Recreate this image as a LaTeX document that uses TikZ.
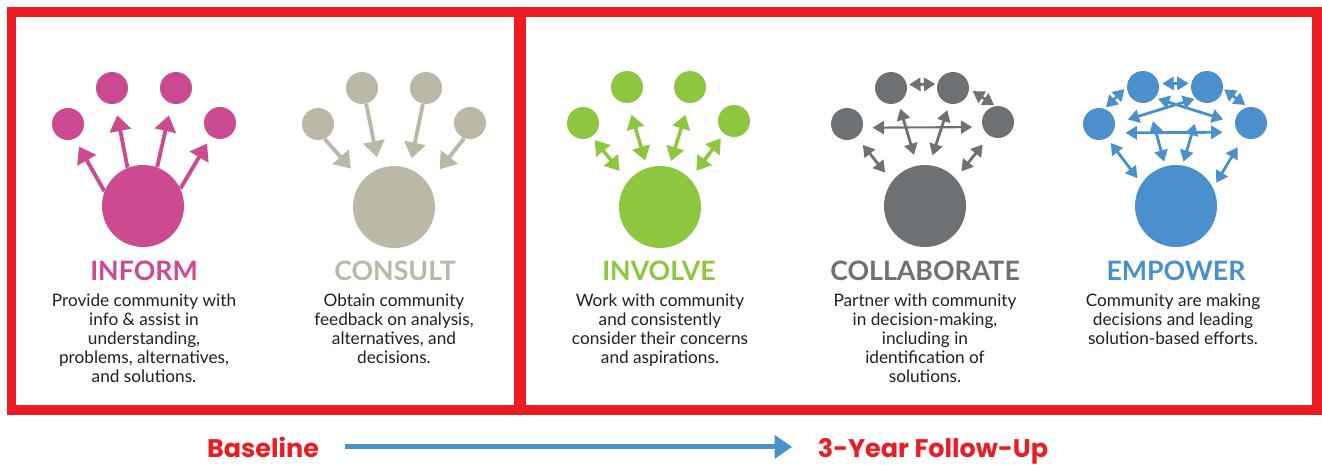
\documentclass[tikz,border=0pt]{standalone}
\usepackage{fontspec}
\setmainfont{Lato}
\newfontfamily\tagfont{Poppins}
\usetikzlibrary{arrows.meta}

\definecolor{informc}{HTML}{CC4A8F}
\definecolor{consultc}{HTML}{BCB8A6}
\definecolor{involvec}{HTML}{8DC63F}
\definecolor{collabc}{HTML}{6D7173}
\definecolor{empowerc}{HTML}{4A90CD}
\definecolor{framec}{HTML}{ED1C24}
\definecolor{bodyc}{HTML}{231F20}

\tikzset{
  smalldot/.style={circle,fill=#1,minimum size=0.64cm,inner sep=0pt},
  bigdot/.style={circle,fill=#1,minimum size=1.64cm,inner sep=0pt},
  oneway/.style={draw=#1,line width=2.2pt,-{Triangle[width=12pt,length=9pt]}},
  twoway/.style={draw=#1,line width=2pt,{Triangle[width=10pt,length=8pt]}-{Triangle[width=10pt,length=8pt]}},
  thinway/.style={draw=#1,line width=1.6pt,{Triangle[width=7.5pt,length=6.5pt]}-{Triangle[width=7.5pt,length=6.5pt]}},
  rung/.style={font=\fontsize{15.2}{18}\selectfont\bfseries,text=#1,inner sep=0pt},
  blurb/.style={font=\fontsize{9.8}{10.9}\selectfont,text=bodyc,align=center,inner sep=0pt,anchor=north},
  stage/.style={font=\tagfont\bfseries\fontsize{14.5}{17}\selectfont,text=framec,inner sep=0pt,anchor=base},
  timeline/.style={draw=empowerc,line width=2.8pt,-{Triangle[width=13pt,length=10pt]}},
}

\begin{document}
\begin{tikzpicture}[x=0.02cm,y=-0.02cm]
\useasboundingbox (0,0) rectangle (1322,464);

% frames
\draw[framec,line width=5.67pt] (11.5,12) rectangle (519,410);
\draw[framec,line width=5.67pt] (521,12) rectangle (1317,410);

% inform
\node[bigdot=informc] (infB) at (143,206) {};
\node[smalldot=informc] (inf1) at (68,124) {};
\node[smalldot=informc] (inf2) at (112,88) {};
\node[smalldot=informc] (inf3) at (176,88) {};
\node[smalldot=informc] (inf4) at (220,123) {};
\draw[oneway=informc,shorten >=5pt] (infB.159.8) -- (inf1.-66.5);
\draw[oneway=informc,shorten >=6.5pt] (infB.112.8) -- (inf2.-79.5);
\draw[oneway=informc,shorten >=6.8pt] (infB.70.3) -- (inf3.-106.5);
\draw[oneway=informc,shorten >=4.5pt] (infB.25.9) -- (inf4.-123);

% consult
\node[bigdot=consultc] (conB) at (394,207) {};
\node[smalldot=consultc] (con1) at (318,124) {};
\node[smalldot=consultc] (con2) at (362,88) {};
\node[smalldot=consultc] (con3) at (426,88) {};
\node[smalldot=consultc] (con4) at (470,123) {};
\draw[oneway=consultc,shorten >=9.4pt] (con1.-66.4) -- (conB.141.3);
\draw[oneway=consultc,shorten >=6.6pt] (con2.-75) -- (conB.111.2);
\draw[oneway=consultc,shorten >=6pt] (con3.-101) -- (conB.68.4);
\draw[oneway=consultc,shorten >=10.5pt] (con4.-111) -- (conB.34.8);

% involve
\node[bigdot=involvec] (invB) at (660,207) {};
\node[smalldot=involvec] (inv1) at (583,123) {};
\node[smalldot=involvec] (inv2) at (627,87) {};
\node[smalldot=involvec] (inv3) at (690,87) {};
\node[smalldot=involvec] (inv4) at (734,121) {};
\draw[twoway=involvec,shorten <=2.4pt,shorten >=7.4pt] (inv1.-57) -- (invB.141);
\draw[twoway=involvec,shorten <=6.8pt,shorten >=4.2pt] (inv2.-86) -- (invB.108);
\draw[twoway=involvec,shorten <=6.8pt,shorten >=3.4pt] (inv3.-94) -- (invB.77.7);
\draw[twoway=involvec,shorten <=3.1pt,shorten >=5.7pt] (inv4.-127) -- (invB.43.4);

% collaborate
\node[bigdot=collabc] (colB) at (925,206) {};
\node[smalldot=collabc] (col1) at (847,124) {};
\node[smalldot=collabc] (col2) at (891,88) {};
\node[smalldot=collabc] (col3) at (953,88) {};
\node[smalldot=collabc] (col4) at (998,122) {};
\draw[thinway=collabc,shorten <=1.2pt,shorten >=1pt] (col2.12.5) -- (col3.166);
\draw[thinway=collabc,shorten <=2.3pt,shorten >=0.7pt] (col3.-3) -- (col4.100);
\draw[thinway=collabc,line width=1.2pt,shorten <=5.5pt,shorten >=5.8pt] (col1.-13.5) -- (col4.-162);
\draw[thinway=collabc,shorten <=3.6pt,shorten >=6.2pt] (col2.-63.4) -- (colB.101);
\draw[thinway=collabc,shorten <=3.7pt,shorten >=5.7pt] (col3.-103) -- (colB.84.4);
\draw[thinway=collabc,shorten <=5.6pt,shorten >=6.2pt] (col1.-54.5) -- (colB.143.6);
\draw[thinway=collabc,shorten <=6.2pt,shorten >=5.1pt] (col4.-121) -- (colB.42.6);

% empower
\node[bigdot=empowerc] (empB) at (1176,206) {};
\node[smalldot=empowerc] (emp1) at (1099,124) {};
\node[smalldot=empowerc] (emp2) at (1143,87) {};
\node[smalldot=empowerc] (emp3) at (1207,87) {};
\node[smalldot=empowerc] (emp4) at (1251,123) {};
\draw[thinway=empowerc,shorten <=1.9pt,shorten >=1.4pt] (emp2.12) -- (emp3.167.5);
\draw[thinway=empowerc,shorten <=1.1pt,shorten >=1.7pt] (emp1.70.6) -- (emp2.180);
\draw[thinway=empowerc,shorten <=0.6pt,shorten >=1.9pt] (emp3.-6.7) -- (emp4.101.9);
\draw[thinway=empowerc,shorten <=7.4pt,shorten >=0.6pt] (emp1.2) -- (emp3.-135);
\draw[thinway=empowerc,shorten <=1.7pt,shorten >=6.8pt] (emp2.-42.9) -- (emp4.180);
\draw[thinway=empowerc,shorten <=7.3pt,shorten >=8.5pt] (emp1.-33.7) -- (emp4.-146.8);
\draw[thinway=empowerc,shorten <=11pt,shorten >=2.6pt] (emp2.-73.6) -- (empB.105.3);
\draw[thinway=empowerc,shorten <=12.8pt,shorten >=2pt] (emp3.-111) -- (empB.81);
\draw[thinway=empowerc,shorten <=3.4pt,shorten >=3.8pt] (emp1.-60) -- (empB.147);
\draw[thinway=empowerc,shorten <=6.4pt,shorten >=3.4pt] (emp4.-118.4) -- (empB.26.6);

% titles and texts
\node[rung=informc] (infT) at (144,271) {INFORM};
\node[rung=consultc] (conT) at (395,271) {CONSULT};
\node[rung=involvec] (invT) at (659,271) {INVOLVE};
\node[rung=collabc] (colT) at (925,271) {COLLABORATE};
\node[rung=empowerc] (empT) at (1176,271) {EMPOWER};

\node[blurb] (infX) at (144,293) {Provide community with\\info \& assist in\\understanding,\\problems, alternatives,\\and solutions.};
\node[blurb] (conX) at (394,293) {Obtain community\\feedback on analysis,\\alternatives, and\\decisions.};
\node[blurb] (invX) at (660,293) {Work with community\\and consistently\\consider their concerns\\and aspirations.};
\node[blurb] (colX) at (925,293) {Partner with community\\in decision-making,\\including in\\identification of\\solutions.};
\node[blurb] (empX) at (1173,293) {Community are making\\decisions and leading\\solution-based efforts.};

% timeline
\node[stage] (base) at (263,457) {Baseline};
\node[stage] (follow) at (933,457) {3-Year Follow-Up};
\draw[timeline,shorten <=14.5pt,shorten >=14.5pt] (base.east) -- (base.east -| follow.west);
\end{tikzpicture}
\end{document}
